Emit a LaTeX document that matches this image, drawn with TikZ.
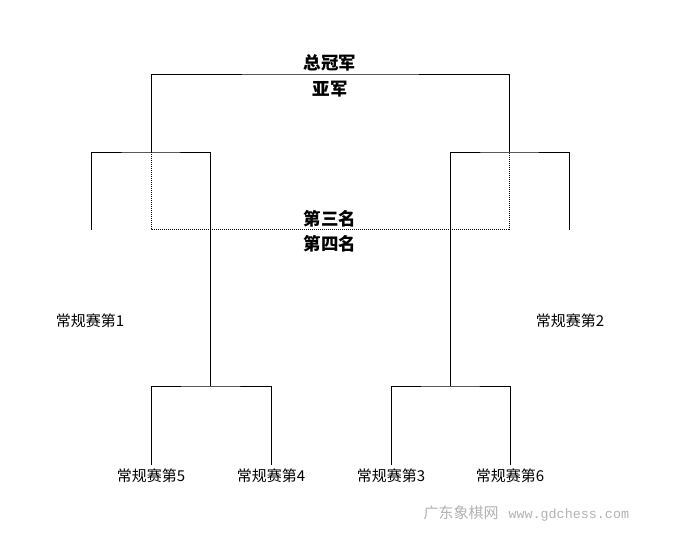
\documentclass[tikz,border=0pt]{standalone}
\usepackage{fontspec}
\setmainfont{Noto Sans CJK SC}
\newfontfamily\cjk{Noto Sans CJK SC}
\newfontfamily\wmfont{Liberation Mono}
\usepackage{tikz}

\begin{document}
\begin{tikzpicture}[x=1pt,y=-1pt,line width=1pt,
  seed/.style={font=\cjk\fontsize{15}{15}\selectfont,inner sep=3pt},
  place/.style={font=\cjk\bfseries\fontsize{17.5}{17.5}\selectfont,inner sep=0pt},
  bronzeline/.style={dash pattern=on 1pt off 1pt}]
\useasboundingbox (0,0) rectangle (684,544);

\coordinate (sfL) at (151,152);
\coordinate (sfR) at (509,152);
\coordinate (qfL) at (210,386);
\coordinate (qfR) at (450,386);
\coordinate (final) at (330,74);
\coordinate (bronze) at (330,229);
\coordinate (e1) at (91,230);
\coordinate (e2) at (569,230);

\node [place] (champ) at (330,63) {总冠军};
\node [place] (runner) at (330,89) {亚军};
\node [place] (third) at (330,219) {第三名};
\node [place] (fourth) at (330,244) {第四名};

\node [seed] (s1) at (90,321) {常规赛第1};
\node [seed] (s2) at (570,321) {常规赛第2};
\node [seed,anchor=north] (s5) at (151,465) {常规赛第5};
\node [seed,anchor=north] (s4) at (271,465) {常规赛第4};
\node [seed,anchor=north] (s3) at (391,465) {常规赛第3};
\node [seed,anchor=north] (s6) at (510,465) {常规赛第6};

\draw (sfL) |- (final) -| (sfR);
\draw (e1) |- (sfL) -| (qfL);
\draw (e2) |- (sfR) -| (qfR);
\draw (s5) |- (qfL) -| (s4);
\draw (s3) |- (qfR) -| (s6);
\draw [bronzeline] (sfL) |- (bronze) -| (sfR);

\node [anchor=west,text=gray!60,inner sep=0pt] (wm) at (423,514)
  {\cjk\fontsize{15}{15}\selectfont 广东象棋网\hspace{10pt}\wmfont\fontsize{13.4}{13.4}\selectfont www.gdchess.com};
\end{tikzpicture}
\end{document}
